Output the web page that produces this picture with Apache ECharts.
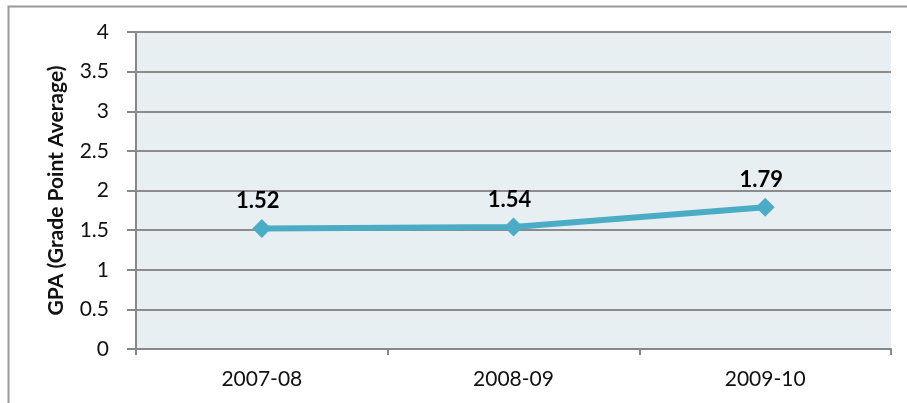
<!DOCTYPE html>
<html>
  <head>
    <meta http-equiv="Content-Type" content="text/html; charset=utf-8">
    <title>GPA</title>
    <style>
      html, body { margin: 0; padding: 0; background: #fff; }
      #chart { width: 907px; height: 403px; }
    </style>
    <script src="https://cdn.jsdelivr.net/npm/echarts@6/dist/echarts.min.js"></script>
  </head>
  <body>
    <div id="chart"></div>
    <script type="text/javascript">
      var years = ["2007-08", "2008-09", "2009-10"];
      var gpa = [1.52, 1.54, 1.79];
      var yTicks = [0, 0.5, 1, 1.5, 2, 2.5, 3, 3.5, 4];

      var myChart = echarts.init(document.getElementById('chart'));
      myChart.setOption({
        textStyle: { fontFamily: 'Lato' },
        graphic: [{
          type: 'rect',
          shape: { x: 8.5, y: 6.5, width: 920, height: 420 },
          style: { fill: 'none', stroke: '#999', lineWidth: 2 },
          silent: true
        }],
        grid: {
          left: 136, right: 16, top: 32, bottom: 54,
          show: true, backgroundColor: '#e8eff3', borderWidth: 0
        },
        xAxis: {
          type: 'category',
          data: years,
          boundaryGap: true,
          axisLine: { lineStyle: { color: '#888', width: 2 } },
          axisTick: { show: true, length: 6, lineStyle: { color: '#888', width: 2 } },
          axisLabel: { color: '#111', fontSize: 21, margin: 20 }
        },
        yAxis: {
          type: 'value',
          min: yTicks[0],
          max: yTicks[yTicks.length - 1],
          interval: 0.5,
          name: 'GPA (Grade Point Average)',
          nameLocation: 'middle',
          nameGap: 69,
          nameTextStyle: { fontWeight: 'bold', fontSize: 21, color: '#111' },
          axisLine: { show: true, lineStyle: { color: '#888', width: 2 } },
          axisTick: { show: true, inside: false, length: 9, lineStyle: { color: '#888', width: 2 } },
          axisLabel: { color: '#111', fontSize: 21, margin: 27 },
          splitLine: { lineStyle: { color: '#8c8c8c', width: 2 } }
        },
        series: [{
          type: 'line',
          data: gpa,
          symbol: 'diamond',
          symbolSize: 19,
          lineStyle: { color: '#4bacc6', width: 6 },
          itemStyle: { color: '#4bacc6' },
          label: {
            show: true,
            position: 'top',
            distance: 7,
            offset: [-4, 0],
            fontWeight: 'bold',
            fontSize: 22,
            color: '#000',
            formatter: function (p) { return p.value.toFixed(2); }
          }
        }]
      });
    </script>
  </body>
</html>
